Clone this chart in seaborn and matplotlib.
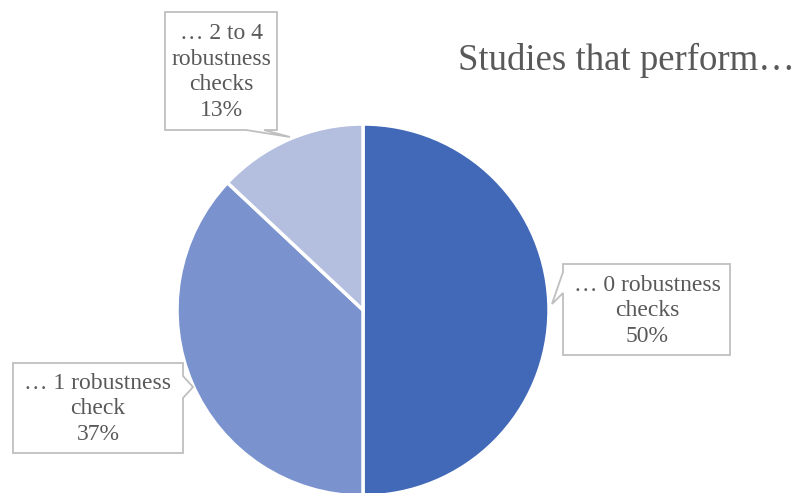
import matplotlib
matplotlib.use("Agg")
import matplotlib.pyplot as plt
from matplotlib.patches import Polygon
import seaborn as sns

# Share of studies by number of robustness checks performed
categories = ["… 0 robustness\nchecks", "… 1 robustness\ncheck", "… 2 to 4\nrobustness\nchecks"]
shares = [50, 37, 13]
colors = ["#4169B8", "#7A92CE", "#B4BFE0"]
title = "Studies that perform…"

sns.set_theme(style="white")
plt.rcParams["font.family"] = ["Liberation Serif", "DejaVu Serif"]

W, H = 798, 493
fig = plt.figure(figsize=(W / 100, H / 100), dpi=100)
ax = fig.add_axes([0, 0, 1, 1])

def fy(y):
    # pixel row (from top) to data y (from bottom)
    return H - y

ax.pie(shares, colors=colors, startangle=90, counterclock=False,
       center=(363, fy(310)), radius=186,
       wedgeprops=dict(edgecolor="white", linewidth=2.5))
ax.set_xlim(0, W)
ax.set_ylim(0, H)
ax.set_aspect("equal")
ax.axis("off")

text_color = "#595959"
box_edge = "#BFBFBF"

# Callout outlines (box + pointer), in pixel coordinates from the top-left
callouts = [
    dict(poly=[(563, 264), (730, 264), (730, 355), (563, 355), (563, 293), (552, 304), (563, 272)],
         center=(647, 311)),
    dict(poly=[(13, 363), (183, 363), (183, 376), (193, 387), (183, 398), (183, 453), (13, 453)],
         center=(98, 409)),
    dict(poly=[(165, 12), (277, 12), (277, 130), (264, 130), (290, 137), (246, 130), (165, 130)],
         center=(221, 72)),
]

for cat, val, co in zip(categories, shares, callouts):
    pts = [(x, fy(y)) for x, y in co["poly"]]
    ax.add_patch(Polygon(pts, closed=True, facecolor="white", edgecolor=box_edge,
                         linewidth=1.3, zorder=3))
    cx, cy = co["center"]
    ax.text(cx, fy(cy), f"{cat}\n{val}%", ha="center", va="center",
            fontsize=17, color=text_color, linespacing=1.3, zorder=4)

ax.text(458, fy(60), title, ha="left", va="center", fontsize=26.5, color=text_color)

fig.savefig("out.png", dpi=100)
